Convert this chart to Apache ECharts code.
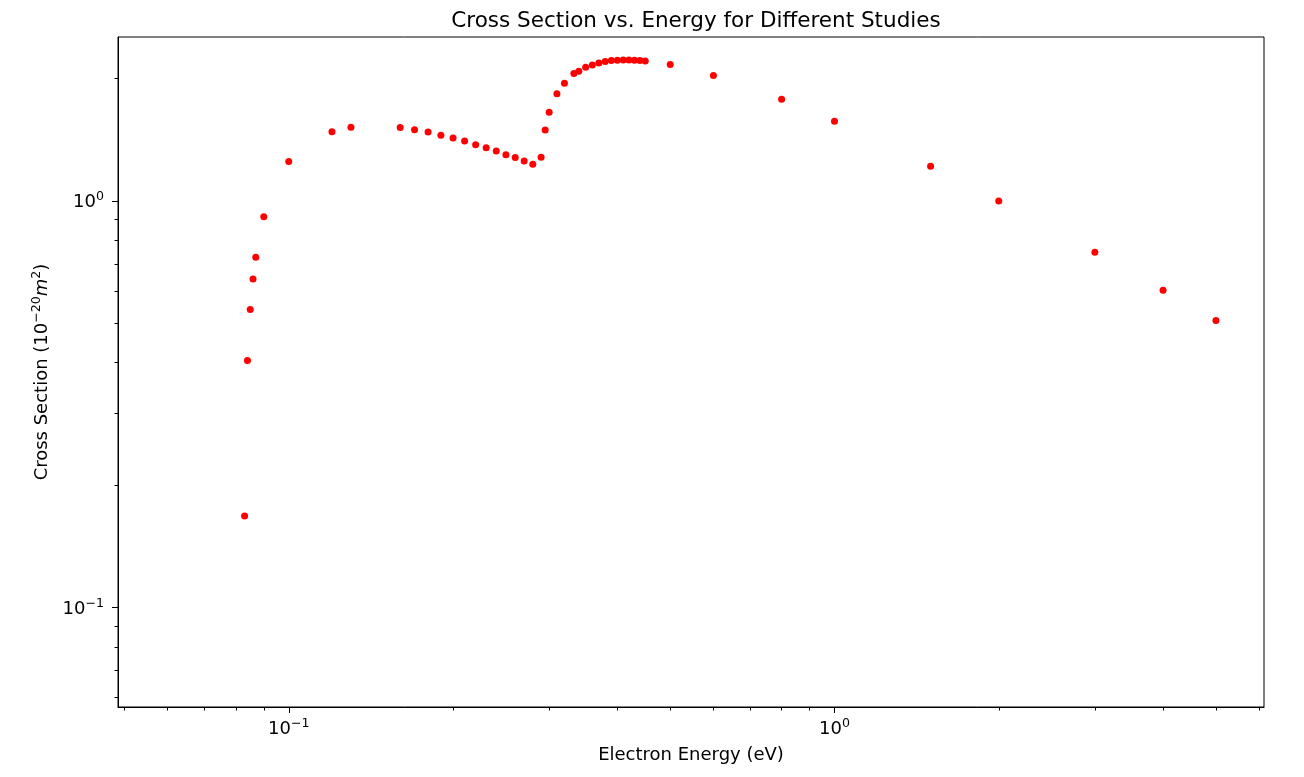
<!DOCTYPE html>
<html>
<head>
    <meta charset="utf-8">
    <title>Cross Section vs. Energy</title>
    <script src="https://cdn.jsdelivr.net/npm/echarts@6/dist/echarts.min.js"></script>
    <style>
        html, body { margin: 0; padding: 0; background: #fff; }
        #main { width: 1304px; height: 777px; }
    </style>
</head>
<body>
<div id="main"></div>
<script type="text/javascript">
    // data (log-log)
    var energy = [0.083, 0.084, 0.085, 0.086, 0.087, 0.09, 0.1, 0.12, 0.13,
        0.16, 0.17, 0.18, 0.19, 0.2, 0.21, 0.22, 0.23, 0.24, 0.25, 0.26, 0.27, 0.28,
        0.29, 0.295, 0.3, 0.31, 0.32, 0.333, 0.34, 0.35, 0.36, 0.37, 0.38, 0.39,
        0.4, 0.41, 0.42, 0.43, 0.44, 0.45, 0.5, 0.6, 0.8, 1.0, 1.5, 2.0, 3.0, 4.0, 5.0];
    var crossSection = [0.168, 0.405, 0.541, 0.643, 0.727, 0.915, 1.25, 1.48, 1.518,
        1.516, 1.498, 1.478, 1.451, 1.429, 1.405, 1.376, 1.353, 1.327, 1.300, 1.279, 1.254, 1.231,
        1.281, 1.495, 1.653, 1.837, 1.948, 2.058, 2.085, 2.133, 2.161, 2.185, 2.203, 2.215,
        2.219, 2.223, 2.223, 2.219, 2.215, 2.21, 2.166, 2.035, 1.779, 1.571, 1.217, 1.0, 0.748, 0.603, 0.508];

    var xMajor = [0.1, 1];
    var xMinor = [0.05, 0.06, 0.07, 0.08, 0.09, 0.2, 0.3, 0.4, 0.5, 0.6, 0.7, 0.8, 0.9, 2, 3, 4, 5, 6];
    var yMajor = [0.1, 1];
    var yMinor = [0.06, 0.07, 0.08, 0.09, 0.2, 0.3, 0.4, 0.5, 0.6, 0.7, 0.8, 0.9, 2];

    var xRange = [0.04865, 6.124];
    var yRange = [0.0569, 2.532];

    var points = [];
    for (var i = 0; i < energy.length; i++) {
        points.push([energy[i], crossSection[i]]);
    }

    var font = 'DejaVu Sans';
    // mathtext-like 10^n: base at bottom, exponent pushed up
    var powRich = {
        b: { fontFamily: font, fontSize: 18, color: '#000', verticalAlign: 'bottom' },
        s: { fontFamily: font, fontSize: 12.6, color: '#000', verticalAlign: 'top', padding: [0, 0, 8, 0] }
    };
    function powLabel(v) {
        var e = Math.round(Math.log10(v));
        return '{b|10}{s|' + (e < 0 ? '\u2212' + (-e) : e) + '}';
    }

    function majorAxis(range, ticks, margin, extra) {
        var a = {
            type: 'log',
            logBase: 10,
            min: range[0],
            max: range[1],
            splitLine: { show: false },
            axisLine: { show: true, lineStyle: { color: '#000', width: 1 } },
            axisTick: { show: true, length: 6, customValues: ticks, lineStyle: { color: '#000' } },
            axisLabel: { show: true, customValues: ticks, formatter: powLabel, rich: powRich, margin: margin }
        };
        for (var k in extra) a[k] = extra[k];
        return a;
    }
    function minorAxis(range, ticks, pos) {
        return {
            type: 'log',
            logBase: 10,
            min: range[0],
            max: range[1],
            position: pos,
            splitLine: { show: false },
            axisLine: { show: false },
            axisTick: { show: true, length: 3.5, customValues: ticks, lineStyle: { color: '#000' } },
            axisLabel: { show: false }
        };
    }

    var myChart = echarts.init(document.getElementById('main'));
    var option = {
        animation: false,
        backgroundColor: '#fff',
        title: {
            text: 'Cross Section vs. Energy for Different Studies',
            left: 691,
            textAlign: 'center',
            top: 5,
            textStyle: { fontFamily: font, fontSize: 21.5, fontWeight: 'normal', color: '#000' }
        },
        grid: {
            left: 118, right: 40, top: 37, bottom: 70,
            show: true, borderColor: '#000', borderWidth: 1
        },
        xAxis: [
            majorAxis(xRange, xMajor, 10, {
                position: 'bottom',
                name: 'Electron Energy (eV)',
                nameLocation: 'middle',
                nameGap: 39,
                nameTextStyle: { fontFamily: font, fontSize: 18, color: '#000' }
            }),
            minorAxis(xRange, xMinor, 'bottom')
        ],
        yAxis: [
            majorAxis(yRange, yMajor, 14, {
                position: 'left',
                name: '{n|Cross Section (10}{s|\u221220}{i|m}{s|2}{n|)}',
                nameLocation: 'middle',
                nameGap: 67,
                nameTextStyle: {
                    rich: {
                        n: { fontFamily: font, fontSize: 18, color: '#000', verticalAlign: 'bottom' },
                        i: { fontFamily: font, fontSize: 18, fontStyle: 'italic', color: '#000', verticalAlign: 'bottom' },
                        s: { fontFamily: font, fontSize: 12.6, color: '#000', verticalAlign: 'top', padding: [0, 0, 8, 0] }
                    }
                }
            }),
            minorAxis(yRange, yMinor, 'left')
        ],
        series: [
            {
                name: 'Cross Section',
                type: 'scatter',
                xAxisIndex: 0,
                yAxisIndex: 0,
                symbol: 'circle',
                symbolSize: 7,
                itemStyle: { color: '#ff0000', opacity: 1 },
                data: points
            }
        ]
    };
    myChart.setOption(option);
</script>
</body>
</html>
